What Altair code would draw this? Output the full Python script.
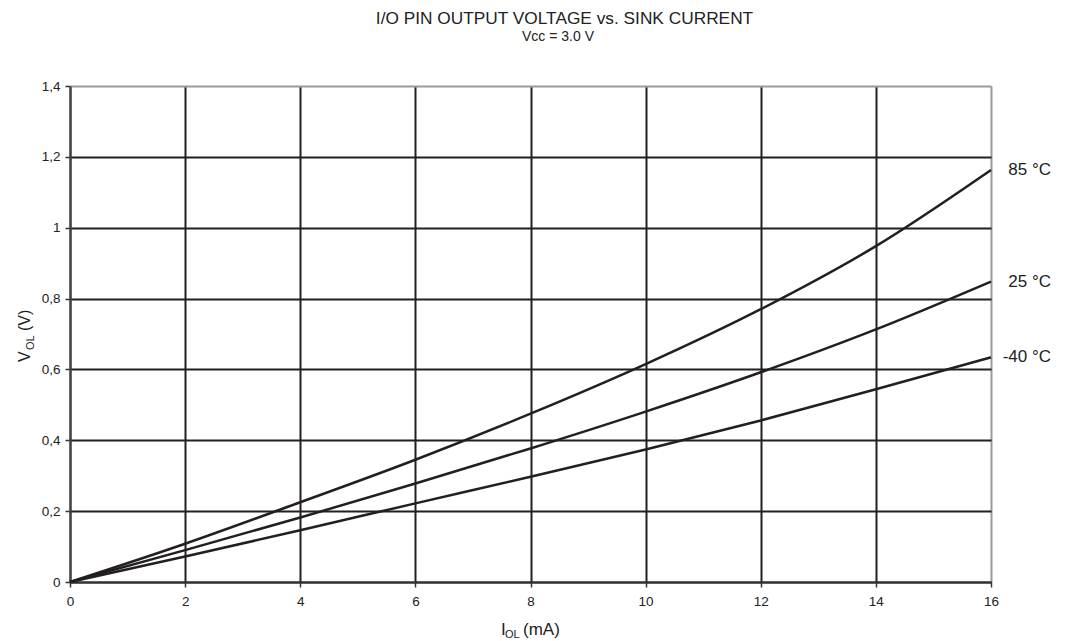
import altair as alt
import pandas as pd

# ---- data ----
currents = [0, 2, 4, 6, 8, 10, 12, 14, 16]           # I_OL (mA)
v_85 = [0, 0.108, 0.225, 0.345, 0.475, 0.615, 0.770, 0.948, 1.163]
v_25 = [0, 0.090, 0.182, 0.278, 0.377, 0.481, 0.592, 0.713, 0.848]
v_m40 = [0, 0.072, 0.146, 0.222, 0.297, 0.374, 0.456, 0.544, 0.634]
series_names = ["85 °C", "25 °C", "-40 °C"]
x_ticks = [0, 2, 4, 6, 8, 10, 12, 14, 16]
y_ticks = [0, 0.2, 0.4, 0.6, 0.8, 1.0, 1.2, 1.4]

title_text = "I/O PIN OUTPUT VOLTAGE vs. SINK CURRENT"
subtitle_text = "Vcc = 3.0 V"

FONT = "Liberation Sans"
INK = "#231f20"
TXT = "#222222"

rows = []
for name, vals in zip(series_names, [v_85, v_25, v_m40]):
    for c, v in zip(currents, vals):
        rows.append({"series": name, "current": c, "voltage": v})
df = pd.DataFrame(rows)
df_end = df[df["current"] == currents[-1]]

x_enc = alt.X(
    "current:Q",
    scale=alt.Scale(domain=[0, 16], nice=False, zero=False),
    axis=alt.Axis(
        values=x_ticks, title=None, grid=True, format="~g", labelFlush=False,
        gridColor={"condition": {"test": "datum.value >= 15.9", "value": "#9a9a9a"}, "value": INK},
        gridWidth=2, domainColor="#333333", domainWidth=2,
        tickColor="#333333", tickSize=5, tickWidth=1.5,
        labelFont=FONT, labelFontSize=13.5, labelColor=TXT, labelPadding=7,
    ),
)
y_enc = alt.Y(
    "voltage:Q",
    scale=alt.Scale(domain=[0, 1.4], nice=False, zero=False),
    axis=alt.Axis(
        values=y_ticks, title=None, grid=True, labelFlush=False,
        gridColor={"condition": {"test": "datum.value >= 1.39", "value": "#9a9a9a"}, "value": INK},
        gridWidth=2, domainColor="#444444", domainWidth=2,
        tickColor="#333333", tickSize=5, tickWidth=1.5,
        labelFont=FONT, labelFontSize=13.5, labelColor=TXT, labelPadding=5,
        labelExpr="replace(format(datum.value, '~g'), '.', ',')",
    ),
)

lines = alt.Chart(df).mark_line(
    color=INK, strokeWidth=2.5, interpolate="monotone"
).encode(x=x_enc, y=y_enc, detail="series:N")

end_labels = alt.Chart(df_end).mark_text(
    align="right", baseline="middle", dx=60, font=FONT, fontSize=17, color=TXT
).encode(x="current:Q", y="voltage:Q", text="series:N")


def txt(s, x, y, size, angle=0, align="left"):
    return alt.Chart(pd.DataFrame({"t": [s]})).mark_text(
        align=align, baseline="alphabetic", font=FONT, fontSize=size,
        color=TXT, angle=angle
    ).encode(text="t:N", x=alt.value(x), y=alt.value(y))


# chart title and subtitle (positions relative to the plot area)
t_title = txt(title_text, 494.5, -62, 17.3, align="center")
t_sub = txt(subtitle_text, 488, -45, 14, align="center")

# x-axis title: I_OL (mA)
tx1 = txt("I", 431, 549, 17)
tx2 = txt("OL", 435, 551.5, 11)
tx3 = txt("(mA)", 453, 549, 17)

# y-axis title: V_OL (V), rotated
ty1 = txt("V", -40, 276, 16, angle=270)
ty2 = txt("OL", -36.5, 264, 11, angle=270)
ty3 = txt("(V)", -40, 245, 16, angle=270)

chart = alt.layer(
    lines, end_labels, t_title, t_sub, tx1, tx2, tx3, ty1, ty2, ty3
).properties(
    width=921, height=496,
    autosize=alt.AutoSizeParams(type="none"),
    padding={"left": 62, "top": 78, "right": 68, "bottom": 56},
    background="white",
).configure_view(stroke=None)

chart.save("out.html", embed_options={"renderer": "svg", "actions": False})
